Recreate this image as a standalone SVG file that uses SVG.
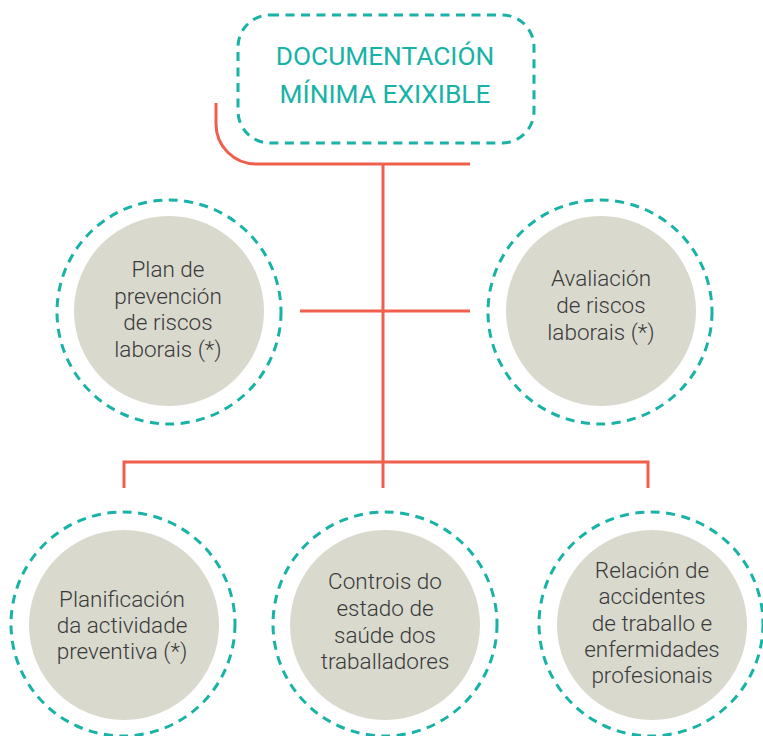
<svg xmlns="http://www.w3.org/2000/svg" width="763" height="736" viewBox="0 0 763 736">
<style>
.ring{fill:none;stroke:#18b2a6;stroke-width:3;stroke-dasharray:9 6.5}
.disc{fill:#d9d9ce}
.lbl{font-family:Roboto,"Liberation Sans",sans-serif;font-weight:300;font-size:22.5px;fill:#3a3a3a;text-anchor:middle}
.title{font-family:Roboto,"Liberation Sans",sans-serif;font-weight:400;font-size:26.3px;fill:#18b2a6;text-anchor:middle}
.conn{fill:none;stroke:#ef5f4c;stroke-width:3}
</style>
<rect width="763" height="736" fill="#ffffff"/>
<g id="connectors">
<path class="conn" d="M216 103 V124 A40 40 0 0 0 256 164 H470"/>
<path class="conn" d="M383 164 V462"/>
<path class="conn" d="M300 311 H470"/>
<path class="conn" d="M124 488 V462 H648 V488"/>
<path class="conn" d="M383 462 V488"/>
</g>
<g id="title">
<rect x="238" y="15" width="296" height="128" rx="32" class="ring"/>
<text class="title" x="385" y="65">DOCUMENTACIÓN</text>
<text class="title" x="385" y="103">MÍNIMA EXIXIBLE</text>
</g>
<g id="plan">
<circle cx="169" cy="312" r="112" class="ring"/>
<circle cx="169" cy="311" r="95" class="disc"/>
<text class="lbl" x="168"><tspan x="168" y="277">Plan de</tspan><tspan x="168" y="303.5">prevención</tspan><tspan x="168" y="330">de riscos</tspan><tspan x="168" y="356.5">laborais (*)</tspan></text>
</g>
<g id="avaliacion">
<circle cx="600" cy="312" r="112" class="ring"/>
<circle cx="601" cy="311" r="95" class="disc"/>
<text class="lbl" x="601"><tspan x="601" y="286">Avaliación</tspan><tspan x="601" y="313">de riscos</tspan><tspan x="601" y="340">laborais (*)</tspan></text>
</g>
<g id="planificacion">
<circle cx="123" cy="624" r="112" class="ring"/>
<circle cx="124" cy="625" r="95" class="disc"/>
<text class="lbl" x="122"><tspan x="122" y="607">Planificación</tspan><tspan x="122" y="633">da actividade</tspan><tspan x="122" y="659">preventiva (*)</tspan></text>
</g>
<g id="controis">
<circle cx="385" cy="624" r="112" class="ring"/>
<circle cx="385" cy="625" r="95" class="disc"/>
<text class="lbl" x="385"><tspan x="385" y="589">Controis do</tspan><tspan x="385" y="616">estado de</tspan><tspan x="385" y="643">saúde dos</tspan><tspan x="385" y="669">traballadores</tspan></text>
</g>
<g id="relacion">
<circle cx="651" cy="624" r="112" class="ring"/>
<circle cx="652" cy="625" r="95" class="disc"/>
<text class="lbl" x="652"><tspan x="652" y="578">Relación de</tspan><tspan x="652" y="604">accidentes</tspan><tspan x="652" y="631">de traballo e</tspan><tspan x="652" y="657">enfermidades</tspan><tspan x="652" y="683">profesionais</tspan></text>
</g>
</svg>
